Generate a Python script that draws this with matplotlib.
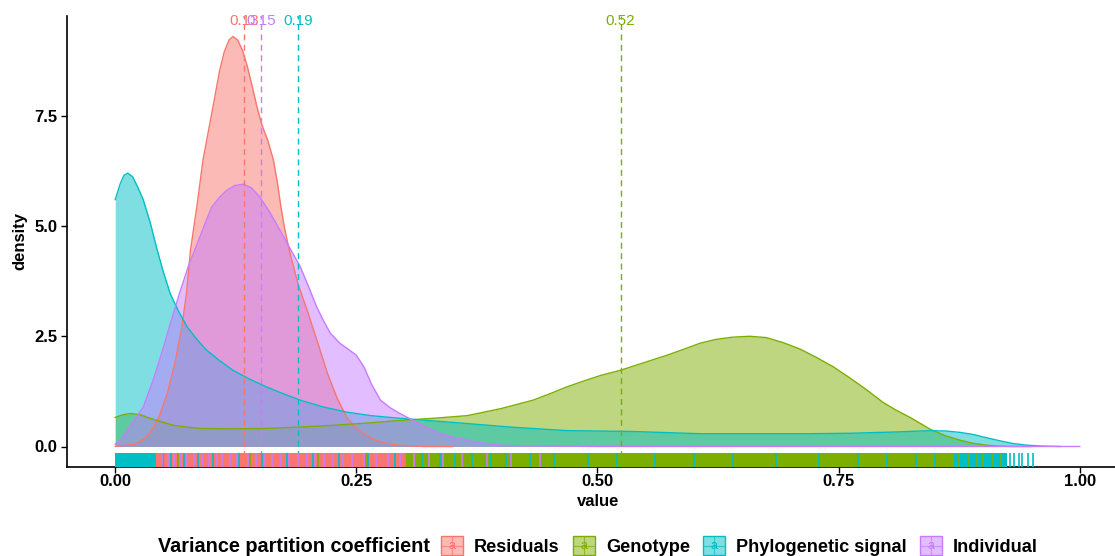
"""
Density of variance partition coefficients per component, with rug and group means.
"""

import matplotlib.pyplot as plt
import matplotlib.transforms as mtransforms
from matplotlib.legend_handler import HandlerBase
from matplotlib.lines import Line2D
from matplotlib.patches import Patch, Rectangle
from matplotlib.text import Text


GROUPS = ["Residuals", "Genotype", "Phylogenetic signal", "Individual"]
COLORS = ["#F8766D", "#7CAE00", "#00BFC4", "#C77CFF"]

# density curves
RESID_X = [0.0, 0.02, 0.03, 0.036, 0.045, 0.054, 0.062, 0.069, 0.074, 0.078,
           0.085, 0.091, 0.097, 0.103, 0.108, 0.113, 0.118, 0.122, 0.127, 0.132,
           0.137, 0.142, 0.147, 0.152, 0.158, 0.164, 0.168, 0.172, 0.176, 0.181,
           0.19, 0.199, 0.21, 0.22, 0.23, 0.24, 0.25, 0.26, 0.27, 0.28,
           0.29, 0.30, 0.32, 0.35]
RESID_Y = [0.0, 0.05, 0.17, 0.3, 0.65, 1.2, 1.9, 2.7, 3.5, 4.45,
           5.5, 6.5, 7.2, 7.9, 8.5, 8.95, 9.22, 9.3, 9.22, 8.98,
           8.62, 8.17, 7.7, 7.3, 6.95, 6.5, 6.0, 5.4, 4.9, 4.4,
           3.65, 3.09, 2.35, 1.66, 1.1, 0.66, 0.42, 0.25, 0.14, 0.08,
           0.04, 0.02, 0.0, 0.0]

GENO_X = [0.0, 0.008, 0.016, 0.026, 0.036, 0.048, 0.06, 0.074, 0.088, 0.12,
          0.157, 0.19, 0.226, 0.26, 0.295, 0.33, 0.365, 0.40, 0.433, 0.45,
          0.468, 0.485, 0.503, 0.524, 0.548, 0.572, 0.59, 0.606, 0.623, 0.64,
          0.658, 0.675, 0.692, 0.71, 0.727, 0.745, 0.762, 0.78, 0.796, 0.81,
          0.824, 0.835, 0.845, 0.86, 0.876, 0.89, 0.903, 0.915, 0.93, 0.95]
GENO_Y = [0.66, 0.72, 0.75, 0.72, 0.64, 0.56, 0.48, 0.44, 0.41, 0.40,
          0.41, 0.44, 0.48, 0.53, 0.59, 0.64, 0.70, 0.86, 1.05, 1.19,
          1.35, 1.48, 1.61, 1.73, 1.90, 2.07, 2.21, 2.34, 2.43, 2.48,
          2.50, 2.47, 2.36, 2.21, 2.02, 1.80, 1.55, 1.27, 1.00, 0.82,
          0.66, 0.52, 0.39, 0.25, 0.14, 0.07, 0.03, 0.01, 0.0, 0.0]

PHYLO_X = [0.0, 0.005, 0.009, 0.013, 0.018, 0.023, 0.029, 0.036, 0.043, 0.05,
           0.057, 0.066, 0.075, 0.085, 0.095, 0.108, 0.122, 0.14, 0.157, 0.175,
           0.192, 0.215, 0.24, 0.265, 0.295, 0.33, 0.365, 0.41, 0.468, 0.537,
           0.606, 0.676, 0.72, 0.762, 0.81, 0.845, 0.862, 0.876, 0.89, 0.903,
           0.917, 0.93, 0.945, 0.96, 0.98]
PHYLO_Y = [5.6, 5.95, 6.15, 6.2, 6.12, 5.9, 5.6, 5.1, 4.5, 3.95,
           3.47, 3.05, 2.7, 2.42, 2.18, 1.95, 1.73, 1.52, 1.35, 1.19,
           1.05, 0.9, 0.78, 0.7, 0.64, 0.58, 0.52, 0.44, 0.36, 0.34,
           0.29, 0.29, 0.29, 0.3, 0.33, 0.36, 0.35, 0.32, 0.27, 0.2,
           0.13, 0.07, 0.03, 0.01, 0.0]

INDIV_X = [0.0, 0.005, 0.015, 0.029, 0.04, 0.05, 0.058, 0.067, 0.076, 0.085,
           0.093, 0.10, 0.108, 0.115, 0.124, 0.133, 0.141, 0.15, 0.16, 0.171,
           0.181, 0.192, 0.2, 0.209, 0.216, 0.223, 0.233, 0.242, 0.25, 0.258,
           0.266, 0.275, 0.285, 0.295, 0.309, 0.322, 0.337, 0.35, 0.365, 0.38,
           0.40, 0.42, 0.45, 0.5, 0.6, 0.8, 1.0]
INDIV_Y = [0.05, 0.14, 0.45, 0.89, 1.55, 2.25, 2.85, 3.5, 4.1, 4.6,
           5.05, 5.43, 5.65, 5.8, 5.92, 5.95, 5.87, 5.66, 5.32, 4.9,
           4.5, 4.07, 3.65, 3.16, 2.85, 2.57, 2.34, 2.2, 2.07, 1.8,
           1.4, 1.05, 0.88, 0.75, 0.59, 0.44, 0.3, 0.21, 0.14, 0.08,
           0.03, 0.015, 0.01, 0.0, 0.0, 0.0, 0.0]

MEANS = [0.134, 0.524, 0.19, 0.151]

# rug: solid stretches where one group dominates, then single ticks on top
RUG_SPANS = {
    "Residuals": [(0.042, 0.30)],
    "Genotype": [(0.30, 0.87)],
    "Phylogenetic signal": [(0.0, 0.042), (0.87, 0.925)],
    "Individual": [],
}
RUG_TICKS = {
    "Residuals": [0.285, 0.292, 0.30, 0.31],
    "Genotype": [0.065, 0.14, 0.21, 0.26, 0.33, 0.36, 0.395, 0.42,
                 0.875, 0.885, 0.893, 0.90, 0.91, 0.918],
    "Phylogenetic signal": [0.05, 0.058, 0.071, 0.086, 0.101, 0.128, 0.152, 0.178,
                            0.205, 0.232, 0.262, 0.29, 0.318, 0.337, 0.352, 0.37,
                            0.39, 0.405, 0.43, 0.455, 0.49, 0.52, 0.56, 0.60,
                            0.64, 0.685, 0.73, 0.77, 0.80, 0.83, 0.85, 0.928,
                            0.932, 0.937, 0.94, 0.946, 0.952],
    "Individual": [0.048, 0.055, 0.061, 0.068, 0.074, 0.082, 0.09, 0.097,
                   0.105, 0.111, 0.119, 0.126, 0.138, 0.146, 0.155, 0.163,
                   0.172, 0.18, 0.19, 0.199, 0.207, 0.216, 0.226, 0.236,
                   0.245, 0.258, 0.27, 0.283, 0.295, 0.31, 0.325, 0.34,
                   0.36, 0.385, 0.41, 0.44],
}

X_TICKS = [0.0, 0.25, 0.5, 0.75, 1.0]
X_TICK_LABELS = ["0.00", "0.25", "0.50", "0.75", "1.00"]
Y_TICKS = [0.0, 2.5, 5.0, 7.5]
Y_TICK_LABELS = ["0.0", "2.5", "5.0", "7.5"]

FONT = "Liberation Sans"
W, H = 1115, 556


class KeyHandler(HandlerBase):
    """ggplot-like key: filled box, rug path, vline and a text glyph."""

    def create_artists(self, legend, orig_handle, xdescent, ydescent,
                       width, height, fontsize, trans):
        color = orig_handle.get_edgecolor()
        x0, y0 = -xdescent, -ydescent
        box = Rectangle((x0, y0), width, height, facecolor=color[:3] + (0.5,),
                        edgecolor=color, linewidth=1.0, transform=trans)
        hline = Line2D([x0, x0 + width], [y0 + height / 2] * 2, color=color,
                       linewidth=0.8, alpha=0.7, transform=trans)
        vline = Line2D([x0 + width / 2] * 2, [y0, y0 + height], color=color,
                       linewidth=0.8, alpha=0.7, transform=trans)
        glyph = Text(x0 + width / 2, y0 + height / 2, "a", color=color,
                     fontsize=9, ha="center", va="center", family=FONT)
        glyph.set_transform(trans)
        return [box, hline, vline, glyph]


def main():
    plt.rcParams["font.family"] = [FONT, "DejaVu Sans"]

    fig = plt.figure(figsize=(W / 100, H / 100), dpi=100)
    fig.patch.set_facecolor("white")
    ax = fig.add_axes([67 / W, (H - 467) / H, 1061 / W, 451 / H])

    curves = [(RESID_X, RESID_Y), (GENO_X, GENO_Y), (PHYLO_X, PHYLO_Y), (INDIV_X, INDIV_Y)]
    for (xs, ys), color in zip(curves, COLORS):
        ax.fill_between(xs, 0, ys, color=color, alpha=0.5, linewidth=0, zorder=2)
        ax.plot(xs, ys, color=color, linewidth=1.0, zorder=2.1)

    for mean, color in zip(MEANS, COLORS):
        ax.axvline(mean, color=color, linewidth=1.0, dashes=(4.3, 3.2), zorder=3)
        ax.text(mean, 9.66, f"{mean:.2f}", color=color, fontsize=11,
                ha="center", va="center", zorder=4)

    rug_trans = mtransforms.blended_transform_factory(ax.transData, ax.transAxes)
    for group, color in zip(GROUPS, COLORS):
        for start, end in RUG_SPANS[group]:
            ax.axvspan(start, end, ymin=0, ymax=0.03, color=color, linewidth=0, zorder=5)
    for group, color in zip(GROUPS, COLORS):
        ax.vlines(RUG_TICKS[group], 0, 0.03, colors=color, linewidth=1.2,
                  transform=rug_trans, zorder=5.1)

    ax.set_xlim(-0.05, 1.05)
    ax.set_ylim(-0.465, 9.765)
    ax.set_xticks(X_TICKS)
    ax.set_xticklabels(X_TICK_LABELS, fontsize=12, fontweight="bold")
    ax.set_yticks(Y_TICKS)
    ax.set_yticklabels(Y_TICK_LABELS, fontsize=12, fontweight="bold")
    ax.tick_params(length=4, width=1.0, color="black", labelcolor="black", pad=3)
    ax.tick_params(axis="x", pad=1)
    for side in ["top", "right"]:
        ax.spines[side].set_visible(False)
    for side in ["left", "bottom"]:
        ax.spines[side].set_linewidth(1.2)

    ax.set_xlabel("value", fontsize=12, fontweight="bold")
    ax.set_ylabel("density", fontsize=12, fontweight="bold")
    ax.xaxis.set_label_coords((598 - 67) / 1061, (467 - 502) / 451)
    ax.xaxis.label.set_va("center")
    ax.yaxis.set_label_coords((20 - 67) / 1061, 0.5)
    ax.yaxis.label.set_va("center")

    fig.text(158 / W, (H - 547) / H, "Variance partition coefficient",
             fontsize=14.3, fontweight="bold", ha="left", va="center")
    handles = [Patch(facecolor=c, edgecolor=c, label=g) for g, c in zip(GROUPS, COLORS)]
    fig.legend(handles=handles, handler_map={Patch: KeyHandler()},
               loc="center left", bbox_to_anchor=(441 / W, (H - 546) / H),
               ncol=4, frameon=False, borderpad=0, borderaxespad=0,
               handlelength=1.2, handleheight=1.2, handletextpad=0.6,
               columnspacing=0.75,
               prop={"family": FONT, "weight": "bold", "size": 13.1})

    fig.savefig("out.png", dpi=100)
    plt.close(fig)


if __name__ == "__main__":
    main()
